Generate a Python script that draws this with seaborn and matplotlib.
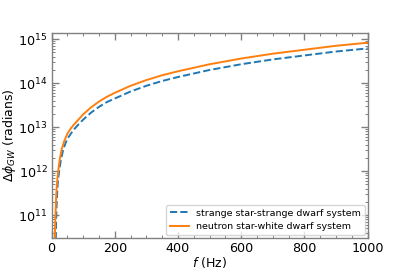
import matplotlib
matplotlib.use("Agg")
import matplotlib.pyplot as plt
import seaborn as sns
import numpy as np
import pandas as pd
from matplotlib.ticker import MultipleLocator, LogLocator, NullFormatter

# Data (f in Hz, log10 of delta phi in radians)
f_ns = [10.5, 11.5, 12.8, 14.5, 16, 18.5, 21, 26, 32, 40, 50, 60, 70, 85, 100, 125, 150, 175, 200,
        250, 300, 350, 400, 500, 600, 700, 800, 900, 1000]
logphi_ns = [10.45, 10.80, 11.06, 11.40, 11.60, 11.83, 12.0, 12.27, 12.49, 12.68, 12.85, 12.96,
             13.05, 13.17, 13.29, 13.45, 13.58, 13.69, 13.78, 13.94, 14.07, 14.18, 14.27, 14.43,
             14.56, 14.67, 14.76, 14.85, 14.92]

f_ss = [13.5, 14.5, 16, 17.5, 19, 21.5, 24, 30, 37, 44, 50, 60, 70, 85, 100, 125, 150, 175, 200,
        250, 300, 350, 400, 500, 600, 700, 800, 900, 1000]
logphi_ss = [10.45, 10.85, 11.2, 11.45, 11.66, 11.85, 12.0, 12.27, 12.49, 12.63, 12.73, 12.84,
             12.94, 13.06, 13.17, 13.33, 13.46, 13.57, 13.65, 13.81, 13.94, 14.05, 14.14, 14.30,
             14.43, 14.54, 14.63, 14.72, 14.79]

label_ss = "strange star-strange dwarf system"
label_ns = "neutron star-white dwarf system"

df_ss = pd.DataFrame({"f": f_ss, "phi": np.power(10.0, logphi_ss)})
df_ns = pd.DataFrame({"f": f_ns, "phi": np.power(10.0, logphi_ns)})

fig = plt.figure(figsize=(4.09, 2.73), dpi=100)
ax = fig.add_axes([0.126, 0.128, 0.773, 0.751])

sns.lineplot(data=df_ss, x="f", y="phi", ax=ax, color="#1f77b4", linestyle="--",
             linewidth=1.4, label=label_ss)
sns.lineplot(data=df_ns, x="f", y="phi", ax=ax, color="#ff7f0e", linestyle="-",
             linewidth=1.4, label=label_ns)

ax.set_yscale("log")
ax.set_xlim(0, 1000)
ax.set_ylim(3.0e10, 1.38e15)

ax.xaxis.set_major_locator(MultipleLocator(200))
ax.xaxis.set_minor_locator(MultipleLocator(50))
ax.yaxis.set_major_locator(LogLocator(base=10, numticks=10))
ax.yaxis.set_minor_locator(LogLocator(base=10, subs=np.arange(2, 10), numticks=20))
ax.yaxis.set_minor_formatter(NullFormatter())

edge = "#808080"
for s in ax.spines.values():
    s.set_color(edge)
    s.set_linewidth(1.0)
ax.tick_params(which="both", direction="in", top=True, right=True, color=edge)
ax.tick_params(which="major", length=5, width=1.0, labelsize=9.2, labelcolor="black", pad=3)
ax.tick_params(which="minor", length=2.5, width=0.7)

ax.set_xlabel("$f$ (Hz)", fontsize=9, labelpad=0)
ax.set_ylabel(r"$\Delta\phi_{GW}$ (radians)", fontsize=9)
ax.yaxis.set_label_coords(-0.106, 0.5)

ax.legend(loc="lower right", fontsize=6.8, frameon=True, handlelength=2.0,
          borderaxespad=0.3)

fig.savefig("out.png", dpi=100)
